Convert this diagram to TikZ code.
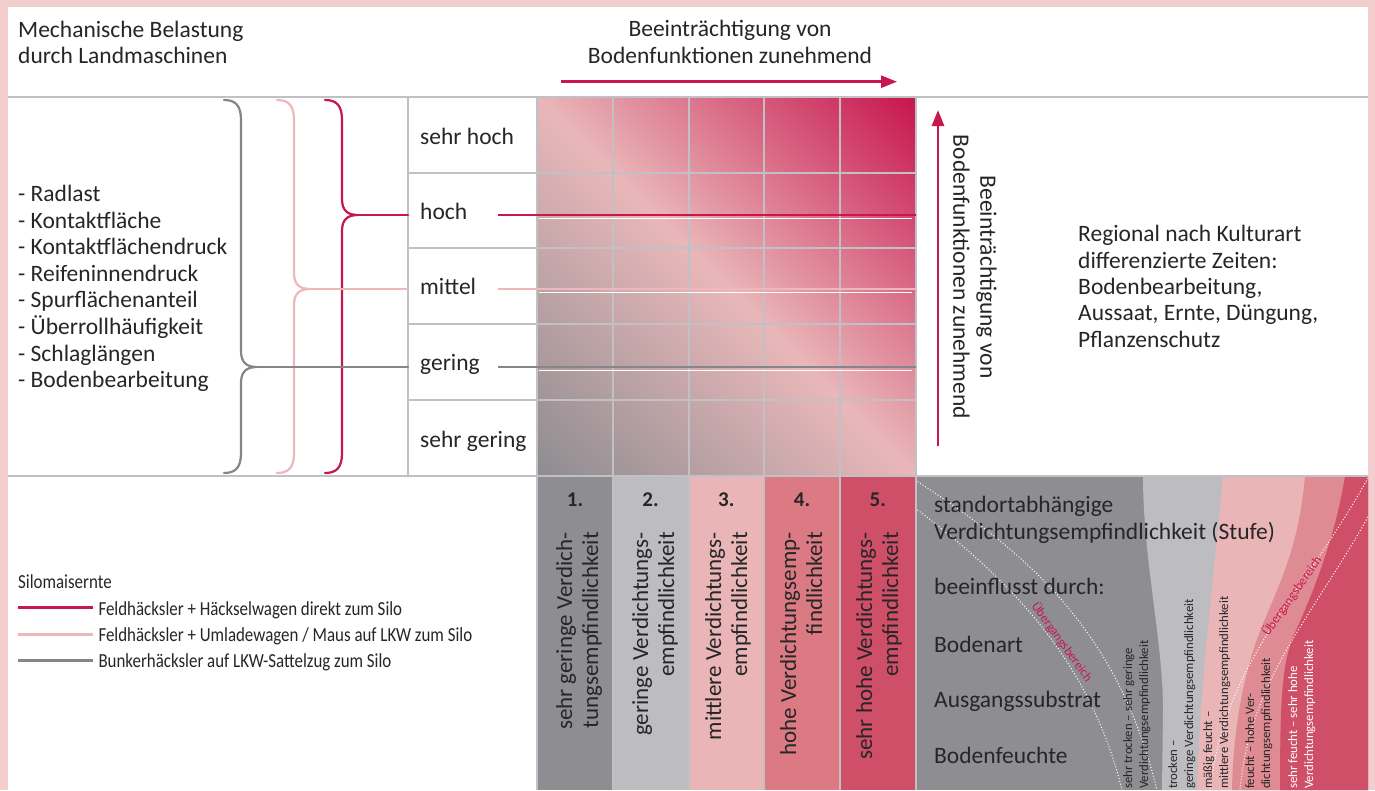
\documentclass[tikz,border=0pt]{standalone}
\usepackage{fontspec}
\setmainfont{Carlito}
\newfontfamily\condfont[FakeStretch=0.85]{Carlito}
\usetikzlibrary{arrows.meta}
\definecolor{crim}{HTML}{C8174F}
\definecolor{lpink}{HTML}{EDB8BA}
\definecolor{lgray}{HTML}{86868A}
\definecolor{framec}{HTML}{F2CECE}
\definecolor{gridc}{HTML}{C1C1C5}
\definecolor{cA}{HTML}{8E8D91}
\definecolor{cB}{HTML}{BDBDC1}
\definecolor{cC}{HTML}{E9B5B7}
\definecolor{cD}{HTML}{DC7A84}
\definecolor{cDb}{HTML}{DF8B93}
\definecolor{cE}{HTML}{CF4F68}
\definecolor{txt}{HTML}{262626}
\definecolor{mgray}{HTML}{8E8D91}
\definecolor{mpink}{HTML}{E9B7B9}
\definecolor{mcrim}{HTML}{C8174F}
\pgfdeclarehorizontalshading{matshade}{100bp}{color(0bp)=(mgray); color(15bp)=(mgray); color(50bp)=(mpink); color(85bp)=(mcrim); color(100bp)=(mcrim)}
\newcommand\drawmybrace[3]{%
  \draw[brace,#1] ({#2-17},100) .. controls ({#2-5},100) and (#2,106) .. (#2,120) -- (#2,{#3-16}) .. controls (#2,{#3-5}) and ({#2+5},#3) .. ({#2+16},#3) .. controls ({#2+5},#3) and (#2,{#3+5}) .. (#2,{#3+16}) -- (#2,453) .. controls (#2,467) and ({#2-5},473) .. ({#2-17},473);}
\tikzset{
  txtnode/.style={text=txt, inner sep=0pt, font=\fontsize{23.5}{26.5}\selectfont},
  lbl/.style={txtnode, anchor=base west},
  gridline/.style={draw=gridc, line width=2pt},
  brace/.style={line width=2.2pt, line cap=round},
  colline/.style={line width=2.6pt},
  hilite/.style={white, line width=1.6pt},
  coltext/.style={txtnode, font=\fontsize{23}{26}\selectfont, rotate=90, align=right, anchor=north east},
  numlabel/.style={text=txt, inner sep=0pt, font=\bfseries\fontsize{21}{24}\selectfont, anchor=base},
  smalltext/.style={inner sep=0pt, font=\fontsize{12.8}{16}\selectfont, rotate=90, align=left, anchor=north west},
  uebergang/.style={inner sep=0pt, text=crim, font=\fontsize{12.8}{15}\selectfont},
  dotline/.style={white, dotted, line width=1pt},
  legtext/.style={text=txt, inner sep=0pt, font=\condfont\fontsize{19.9}{22}\selectfont, anchor=base west},
  bigarrow/.style={crim, line width=2.6pt, -{Triangle[length=16pt,width=12pt]}}
}
\begin{document}
\begin{tikzpicture}[x=1pt,y=-1pt]
\useasboundingbox (0,0) rectangle (1375,790);
\fill[framec] (0,0) rectangle (1375,790);
\fill[white] (7.5,6.5) rectangle (1368,790);

% header texts (base anchor = last line baseline)
\node[lbl, align=left, font=\fontsize{23.5}{26}\selectfont] (head) at (18,63) {Mechanische Belastung\\durch Landmaschinen};
\node[txtnode, anchor=base, align=center, font=\fontsize{23.5}{26.3}\selectfont] (title) at (730,63) {Beeinträchtigung von\\Bodenfunktionen zunehmend};
\coordinate (harrA) at (561,81.7);
\coordinate (harrB) at (897,81.7);
\draw[bigarrow] (harrA) -- (harrB);

% matrix shading
\shade[shading=matshade, shading angle=45] (537,97) rectangle (915.5,476);

% grid lines
\draw[gridline] (7.5,97) -- (1368,97);
\draw[gridline] (7.5,476) -- (1368,476);
\draw[gridline] (408,97) -- (408,476);
\foreach \yy in {172.5,248,324,400} { \draw[gridline] (408,\yy) -- (915.5,\yy); }
\foreach \xx in {537,612.5,688.5,764,840,915.5} { \draw[gridline] (\xx,97) -- (\xx,790); }

% level labels
\node[lbl] (lsh) at (420,144) {sehr hoch};
\node[lbl] (lh) at (420,219) {hoch};
\node[lbl] (lm) at (420,294) {mittel};
\node[lbl] (lg) at (420,370) {gering};
\node[lbl] (lsg) at (420,447) {sehr gering};

% list
\node[lbl, align=left, font=\fontsize{23.5}{26.57}\selectfont] (list) at (18,387.7) {- Radlast\\- Kontaktfläche\\- Kontaktflächendruck\\- Reifeninnendruck\\- Spurflächenanteil\\- Überrollhäufigkeit\\- Schlaglängen\\- Bodenbearbeitung};

% braces
\drawmybrace{lgray}{241}{367}
\drawmybrace{lpink}{294}{289}
\drawmybrace{crim}{342}{215}
\coordinate (tipG) at (257,367);
\coordinate (tipP) at (310,289);
\coordinate (tipC) at (358,215);
\coordinate (inG) at (408,367);
\coordinate (inP) at (408,289);
\coordinate (inC) at (408,215);
\draw[brace, lgray] (tipG) -- (inG);
\draw[brace, lpink] (tipP) -- (inP);
\draw[brace, crim] (tipC) -- (inC);

% lines through matrix
\coordinate (mCa) at (498,215);   \coordinate (mCb) at (915.5,215);
\coordinate (mPa) at (498,289);   \coordinate (mPb) at (915.5,289);
\coordinate (mGa) at (498,367);   \coordinate (mGb) at (915.5,367);
\draw[hilite] (539,218.5) -- (912,218.5);
\draw[hilite] (539,292.3) -- (912,292.3);
\draw[hilite] (539,370.3) -- (912,370.3);
\draw[colline, crim] (mCa) -- (mCb);
\draw[colline, lpink] (mPa) -- (mPb);
\draw[colline, lgray] (mGa) -- (mGb);

% right vertical arrow and texts
\coordinate (varrA) at (938,446);
\coordinate (varrB) at (938,110);
\draw[bigarrow] (varrA) -- (varrB);
\node[txtnode, rotate=-90, align=center, font=\fontsize{23.5}{27}\selectfont] (vtitle) at (975,277) {Beeinträchtigung von\\Bodenfunktionen zunehmend};
\node[lbl, align=left, font=\fontsize{23.5}{26.3}\selectfont] (regional) at (1078,347) {Regional nach Kulturart\\differenzierte Zeiten:\\Bodenbearbeitung,\\Aussaat, Ernte, Düngung,\\Pflanzenschutz};

% bottom columns
\fill[cA] (538,477) rectangle (611.5,790);
\fill[cB] (613.5,477) rectangle (687.5,790);
\fill[cC] (689.5,477) rectangle (763,790);
\fill[cD] (765,477) rectangle (839,790);
\fill[cE] (841,477) rectangle (914.5,790);
\node[numlabel] (n1) at (575,506.7) {1.};
\node[numlabel] (n2) at (650.5,506.7) {2.};
\node[numlabel] (n3) at (726.3,506.7) {3.};
\node[numlabel] (n4) at (802,506.7) {4.};
\node[numlabel] (n5) at (877.8,506.7) {5.};
\node[coltext] (t1) at (556,532) {sehr geringe Verdich-\\tungsempfindlichkeit};
\node[coltext] (t2) at (632,532) {geringe Verdichtungs-\\empfindlichkeit};
\node[coltext] (t3) at (705,532) {mittlere Verdichtungs-\\empfindlichkeit};
\node[coltext] (t4) at (780,532) {hohe Verdichtungsemp-\\findlichkeit};
\node[coltext] (t5) at (856,532) {sehr hohe Verdichtungs-\\empfindlichkeit};

% bottom right bands
\begin{scope}
\clip (916.5,477) rectangle (1368,790);
\fill[cA] (916.5,477) rectangle (1368,790);
\fill[cB] (1143,476) .. controls (1143,560) and (1163,640) .. (1163,710) -- (1162,790) -- (1368,790) -- (1368,476) -- cycle;
\fill[cC] (1223,476) .. controls (1216,560) and (1200,680) .. (1197,790) -- (1368,790) -- (1368,476) -- cycle;
\fill[cDb] (1305,476) .. controls (1298,560) and (1270,600) .. (1255,645) .. controls (1240,690) and (1233,740) .. (1232,790) -- (1368,790) -- (1368,476) -- cycle;
\fill[cE] (1345,476) .. controls (1335,540) and (1310,600) .. (1293,637) .. controls (1282,665) and (1280,700) .. (1280,790) -- (1368,790) -- (1368,476) -- cycle;
\draw[dotline] (915,480) .. controls (1040,560) and (1120,640) .. (1157,790);
\draw[dotline] (915,508) .. controls (1010,580) and (1090,660) .. (1122,790);
\draw[dotline] (1368,478) .. controls (1300,600) and (1225,660) .. (1210,790);
\draw[dotline] (1368,517) .. controls (1310,620) and (1250,680) .. (1240,790);
\end{scope}
\node[lbl, align=left, font=\fontsize{23.5}{27}\selectfont] (stufe) at (934,763) {standortabhängige\\Verdichtungsempfindlichkeit (Stufe)\\[28pt]beeinflusst durch:\\[31pt]Bodenart\\[28pt]Ausgangssubstrat\\[29pt]Bodenfeuchte};
\node[uebergang, rotate=-54] (ueb1) at (1062,642) {Übergangsbereich};
\node[uebergang, rotate=55] (ueb2) at (1292,596) {Übergangsbereich};
\node[smalltext, text=txt] (s1) at (1123,789) {sehr trocken – sehr geringe\\Verdichtungsempfindlichkeit};
\node[smalltext, text=txt] (s2) at (1168,789) {trocken –\\geringe Verdichtungsempfindlichkeit};
\node[smalltext, text=txt] (s3) at (1203,789) {mäßig feucht –\\mittlere Verdichtungsempfindlichkeit};
\node[smalltext, text=txt] (s4) at (1245,789) {feucht – hohe Ver-\\dichtungsempfindlichkeit};
\node[smalltext, text=white] (s5) at (1288,789) {sehr feucht – sehr hohe\\Verdichtungsempfindlichkeit};

% legend
\node[legtext] (legh) at (18,588) {Silomaisernte};
\coordinate (lg1a) at (18,607.7); \coordinate (lg1b) at (93,607.7);
\coordinate (lg2a) at (18,634.7); \coordinate (lg2b) at (93,634.7);
\coordinate (lg3a) at (18,660.7); \coordinate (lg3b) at (93,660.7);
\draw[colline, crim] (lg1a) -- (lg1b);
\draw[colline, lpink] (lg2a) -- (lg2b);
\draw[colline, lgray] (lg3a) -- (lg3b);
\node[legtext] (leg1) at (98.3,615) {Feldhäcksler + Häckselwagen direkt zum Silo};
\node[legtext] (leg2) at (98.3,641.7) {Feldhäcksler + Umladewagen / Maus auf LKW zum Silo};
\node[legtext] (leg3) at (98.3,667.3) {Bunkerhäcksler auf LKW-Sattelzug zum Silo};
\end{tikzpicture}
\end{document}
